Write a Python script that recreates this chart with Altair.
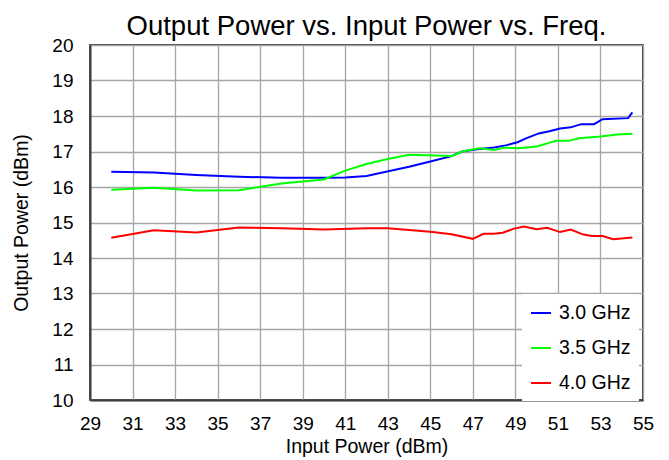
import altair as alt
import pandas as pd

# ---- data ----
blue_x = [30, 32, 34, 36, 38, 40, 41, 42, 44, 45, 46, 46.5, 47.3, 48, 48.6, 49.1, 49.5,
          50.1, 50.6, 51.1, 51.6, 52.1, 52.7, 53.1, 54.3, 54.5]
blue_y = [16.43, 16.41, 16.34, 16.29, 16.26, 16.26, 16.27, 16.31, 16.57, 16.72, 16.87, 17.0,
          17.07, 17.11, 17.18, 17.26, 17.37, 17.51, 17.57, 17.65, 17.68, 17.77, 17.77, 17.91,
          17.94, 18.10]

green_x = [30, 32, 34, 36, 38, 40, 41, 42, 43, 44, 46, 46.5, 47.3, 48, 48.5, 49.1, 50, 50.5,
           50.9, 51.5, 52, 53, 53.8, 54.5]
green_y = [15.92, 15.98, 15.90, 15.91, 16.10, 16.21, 16.46, 16.65, 16.79, 16.91, 16.87, 17.0,
           17.09, 17.04, 17.11, 17.09, 17.14, 17.23, 17.30, 17.30, 17.37, 17.42, 17.48, 17.50]

red_x = [30, 32, 34, 36, 38, 40, 42, 43, 44, 45, 46, 47, 47.5, 48, 48.4, 48.9, 49.4, 50,
         50.5, 51.1, 51.6, 52.2, 52.6, 53.1, 53.6, 54.5]
red_y = [14.57, 14.78, 14.72, 14.86, 14.84, 14.80, 14.84, 14.84, 14.79, 14.74, 14.67, 14.54,
         14.68, 14.68, 14.71, 14.82, 14.89, 14.81, 14.85, 14.73, 14.80, 14.66, 14.62, 14.62,
         14.53, 14.58]

series_names = ["3.0 GHz", "3.5 GHz", "4.0 GHz"]
series_colors = ["#0000ff", "#00ff00", "#ff0000"]

x_ticks = [29, 31, 33, 35, 37, 39, 41, 43, 45, 47, 49, 51, 53, 55]
y_ticks = [10, 11, 12, 13, 14, 15, 16, 17, 18, 19, 20]

rows = []
for name, xs, ys in zip(series_names, [blue_x, green_x, red_x], [blue_y, green_y, red_y]):
    for i, (xv, yv) in enumerate(zip(xs, ys)):
        rows.append({"series": name, "x": xv, "y": yv, "i": i})
df = pd.DataFrame(rows)

FONT = "Liberation Sans"

chart = (
    alt.Chart(df)
    .mark_line(strokeWidth=2)
    .encode(
        x=alt.X(
            "x:Q",
            scale=alt.Scale(domain=[29, 55], nice=False, zero=False),
            axis=alt.Axis(
                values=x_ticks,
                title="Input Power (dBm)",
                labelPadding=14,
                labelFlush=False,
                titlePadding=4,
            ),
        ),
        y=alt.Y(
            "y:Q",
            scale=alt.Scale(domain=[10, 20], nice=False, zero=False),
            axis=alt.Axis(
                values=y_ticks,
                title="Output Power (dBm)",
                labelPadding=17,
                labelFlush=False,
                titlePadding=20,
            ),
        ),
        color=alt.Color(
            "series:N",
            scale=alt.Scale(domain=series_names, range=series_colors),
            legend=alt.Legend(
                title=None,
                orient="none",
                legendX=432,
                legendY=249,
                symbolType="stroke",
                symbolSize=400,
                symbolStrokeWidth=2,
                labelFont=FONT,
                labelFontSize=19.5,
                labelColor="#000000",
                labelOffset=7,
                fillColor="#ffffff",
                padding=8,
                rowPadding=14,
            ),
        ),
        order=alt.Order("i:Q"),
    )
    .properties(
        width=553,
        height=355,
        title=alt.TitleParams(
            "Output Power vs. Input Power vs. Freq.",
            font=FONT,
            fontSize=27.5,
            fontWeight="normal",
            color="#000000",
            anchor="middle",
            offset=4,
            dy=8,
        ),
        autosize=alt.AutoSizeParams(type="none"),
        padding={"left": 82, "top": 37, "right": 18, "bottom": 58},
    )
    .configure_view(stroke="#000000", strokeWidth=1.5)
    .configure_axis(
        labelFont=FONT,
        labelFontSize=19,
        labelColor="#000000",
        titleFont=FONT,
        titleFontSize=19.5,
        titleFontWeight="normal",
        titleColor="#000000",
        ticks=False,
        grid=True,
        gridColor="#a6a6a6",
        gridWidth=1.3,
        domainColor="#404040",
        domainWidth=2,
    )
)

chart.save("out.html", embed_options={"renderer": "svg", "actions": False})
